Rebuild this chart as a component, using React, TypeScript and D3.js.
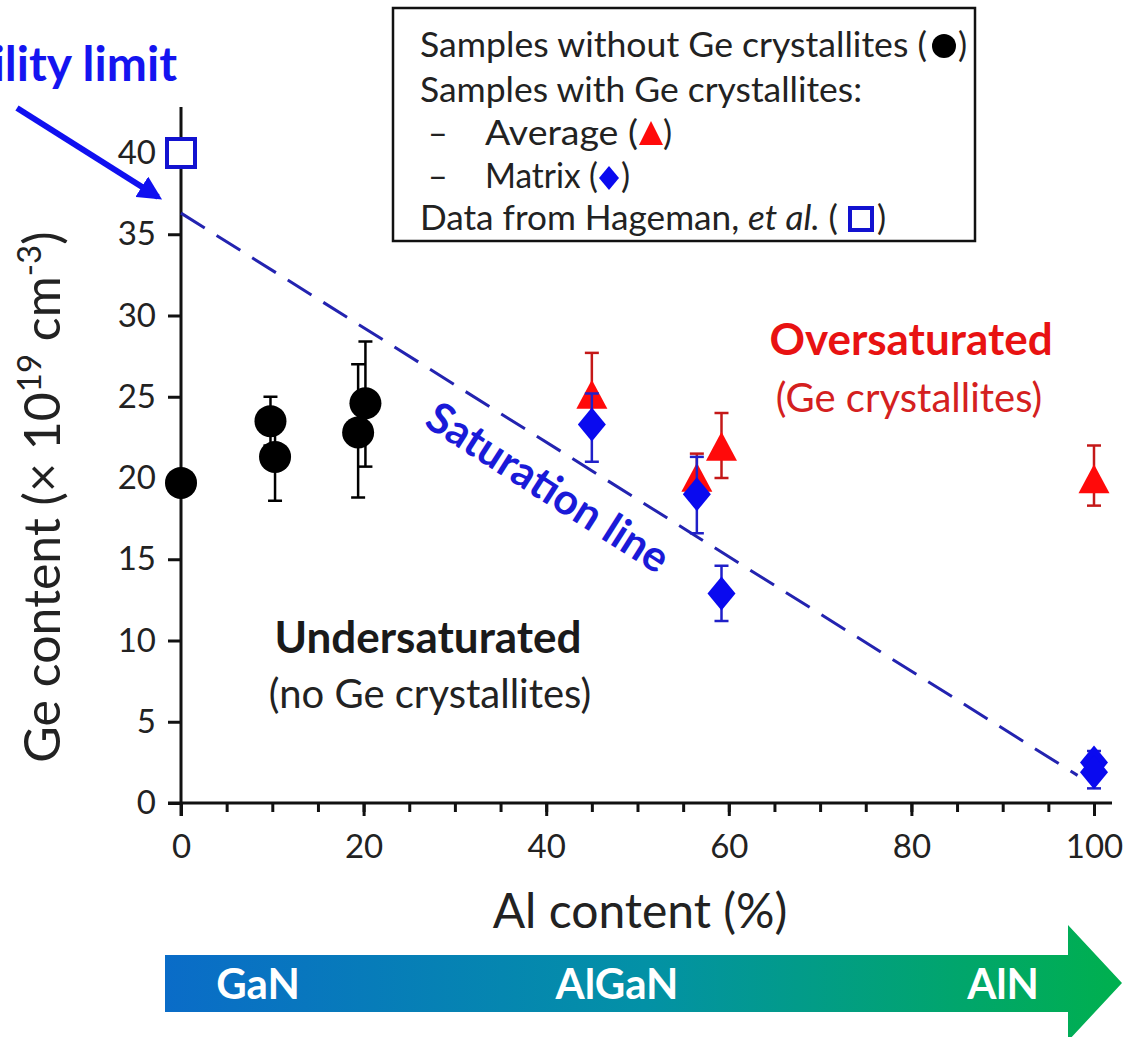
import React, { useEffect, useRef } from 'react';
import * as d3 from 'd3';

const W = 1126;
const H = 1037;
const FONT = 'Lato, "Open Sans", sans-serif';

// Samples without Ge crystallites (black circles)
const noCrysAl = [0, 9.8, 10.3, 19.4, 20.2];
const noCrysGe = [19.7, 23.5, 21.3, 22.8, 24.6];
const noCrysLo = [19.7, 22.0, 18.6, 18.8, 20.7];
const noCrysHi = [19.7, 25.0, 24.0, 27.0, 28.4];

// Samples with Ge crystallites - average (red triangles)
const avgAl = [45, 56.5, 59.2, 100];
const avgGe = [25.0, 19.9, 21.8, 19.8];
const avgLo = [23.0, 18.8, 20.0, 18.3];
const avgHi = [27.7, 21.5, 24.0, 22.0];

// Samples with Ge crystallites - matrix (blue diamonds)
const matAl = [45, 56.5, 59.2, 100, 100];
const matGe = [23.3, 19.0, 12.9, 2.5, 1.9];
const matLo = [21.0, 16.6, 11.2, 1.6, 0.9];
const matHi = [25.2, 21.3, 14.6, 3.2, 2.6];

// Hageman et al.
const hagAl = [0];
const hagGe = [40];

// saturation line end points
const satAl = [0, 98.2];
const satGe = [36.3, 1.7];

const yTicks = [0, 5, 10, 15, 20, 25, 30, 35, 40];
const xMajor = [0, 20, 40, 60, 80, 100];
const xMinor = [0, 5, 10, 15, 20, 25, 30, 35, 40, 45, 50, 55, 60, 65, 70, 75, 80, 85, 90, 95, 100];

const x = d3.scaleLinear().domain([0, 100]).range([181, 1094]);
const y = d3.scaleLinear().domain([0, 40]).range([803, 153]);

const triPath = 'M0,-17L15.5,12L-15.5,12Z';
const diaPath = 'M0,-17L14,0L0,17L-14,0Z';

const ErrBars = ({ xs, lo, hi, color }: { xs: number[]; lo: number[]; hi: number[]; color: string }) => (
  <g stroke={color} strokeWidth={2.5}>
    {xs.map((v, i) =>
      lo[i] === hi[i] ? null : (
        <g key={i}>
          <line x1={x(v)} x2={x(v)} y1={y(lo[i])} y2={y(hi[i])} />
          <line x1={x(v) - 7} x2={x(v) + 7} y1={y(lo[i])} y2={y(lo[i])} />
          <line x1={x(v) - 7} x2={x(v) + 7} y1={y(hi[i])} y2={y(hi[i])} />
        </g>
      )
    )}
  </g>
);

const App = () => {
  const xAxisRef = useRef<SVGGElement>(null);
  const yAxisRef = useRef<SVGGElement>(null);

  useEffect(() => {
    // x axis: minor and major ticks
    const gx = d3.select(xAxisRef.current);
    gx.selectAll('*').remove();
    gx.append('g')
      .call(d3.axisBottom(x).tickValues(xMinor).tickSize(9).tickFormat(() => ''))
      .call(g => g.select('.domain').remove());
    gx.append('g')
      .call(d3.axisBottom(x).tickValues(xMajor).tickSize(13).tickPadding(12).tickFormat(d3.format('d')))
      .call(g => g.select('.domain').remove());
    gx.selectAll('line').attr('stroke', '#111').attr('stroke-width', 3);
    gx.selectAll('text').attr('font-size', 33).attr('font-family', FONT).attr('fill', '#222').attr('dy', '0.9em');

    const gy = d3.select(yAxisRef.current);
    gy.selectAll('*').remove();
    gy.call(d3.axisLeft(y).tickValues(yTicks).tickSize(13).tickPadding(12))
      .call(g => g.select('.domain').remove());
    gy.selectAll('line').attr('stroke', '#111').attr('stroke-width', 3);
    gy.selectAll('text').attr('font-size', 33).attr('font-family', FONT).attr('fill', '#222');
  }, []);

  const satLine = d3.line<number>().x(d => x(d)).y((d, i) => y(satGe[i]));

  return (
    <svg width={W} height={H} style={{ position: 'absolute', left: 0, top: 0, background: '#fff' }} fontFamily={FONT}>
      <defs>
        <linearGradient id="arrowGrad" gradientUnits="userSpaceOnUse" x1={165} x2={1122} y1={0} y2={0}>
          <stop offset="0" stopColor="#0a6cc8" />
          <stop offset="0.5" stopColor="#0391a6" />
          <stop offset="1" stopColor="#00b04e" />
        </linearGradient>
        <marker id="arrHead" viewBox="0 0 10 10" refX="8" refY="5" markerWidth="4" markerHeight="4" orient="auto">
          <path d="M0,0L10,5L0,10Z" fill="#1010f0" />
        </marker>
      </defs>

      {/* axes */}
      <line x1={181} x2={181} y1={107} y2={816} stroke="#111" strokeWidth={3} />
      <line x1={168} x2={1112} y1={y(0)} y2={y(0)} stroke="#111" strokeWidth={3} />
      <g ref={xAxisRef} transform={`translate(0,${y(0)})`} />
      <g ref={yAxisRef} transform={`translate(${x(0)},0)`} />

      {/* axis titles */}
      <text x={640} y={928} textAnchor="middle" fontSize={48} fill="#222">Al content (%)</text>
      <text transform="translate(60,497) rotate(-90)" textAnchor="middle" fontSize={50} fill="#222">
        Ge content (× 10<tspan dy={-19} fontSize={33}>19</tspan><tspan dy={19}> cm</tspan>
        <tspan dy={-19} fontSize={33}>-3</tspan><tspan dy={19}>)</tspan>
      </text>

      {/* saturation line */}
      <path d={satLine(satAl) ?? ''} fill="none" stroke="#2323b0" strokeWidth={3} strokeDasharray="28,14" />
      <text transform="translate(549,486) rotate(32.5)" textAnchor="middle" dominantBaseline="central" fontSize={43} fontWeight="bold" fill="#1a1ad8">
        Saturation line
      </text>

      {/* region labels */}
      <text x={911} y={355} textAnchor="middle" fontSize={44} fontWeight="bold" fill="#e81212">Oversaturated</text>
      <text x={909} y={412} textAnchor="middle" fontSize={40} fill="#d42020">(Ge crystallites)</text>
      <text x={428} y={653} textAnchor="middle" fontSize={44} fontWeight="bold" fill="#1a1a1a">Undersaturated</text>
      <text x={430} y={708} textAnchor="middle" fontSize={40} fill="#222">(no Ge crystallites)</text>

      {/* data: no crystallites */}
      <ErrBars xs={noCrysAl} lo={noCrysLo} hi={noCrysHi} color="#000" />
      {noCrysAl.map((v, i) => (
        <circle key={i} cx={x(v)} cy={y(noCrysGe[i])} r={16} fill="#000" />
      ))}

      {/* average */}
      <ErrBars xs={avgAl} lo={avgLo} hi={avgHi} color="#c41818" />
      {avgAl.map((v, i) => (
        <path key={i} d={triPath} transform={`translate(${x(v)},${y(avgGe[i])})`} fill="#ff0a0a" />
      ))}

      {/* matrix */}
      <ErrBars xs={matAl} lo={matLo} hi={matHi} color="#2020c8" />
      {matAl.map((v, i) => (
        <path key={i} d={diaPath} transform={`translate(${x(v)},${y(matGe[i])})`} fill="#0a0aef" />
      ))}

      {/* Hageman */}
      {hagAl.map((v, i) => (
        <rect key={i} x={x(v) - 14} y={y(hagGe[i]) - 14} width={28} height={28} fill="#fff" stroke="#1212d0" strokeWidth={4} />
      ))}

      {/* solubility limit annotation */}
      <text x={177} y={81} textAnchor="end" fontSize={48} fontWeight="bold" fill="#1414f0">Solubility limit</text>
      <line x1={17} y1={108} x2={158} y2={197} stroke="#1010f0" strokeWidth={6} markerEnd="url(#arrHead)" />

      {/* legend */}
      <g fontSize={34} fill="#222">
        <rect x={393} y={8} width={582} height={233} fill="#fff" stroke="#111" strokeWidth={2.5} />
        <text x={420} y={57} textLength={507} lengthAdjust="spacingAndGlyphs">Samples without Ge crystallites (</text>
        <circle cx={944} cy={46} r={12} fill="#000" />
        <text x={958} y={57}>)</text>
        <text x={420} y={102} textLength={442} lengthAdjust="spacingAndGlyphs">Samples with Ge crystallites:</text>
        <text x={428} y={145}>–</text>
        <text x={485} y={145} textLength={153} lengthAdjust="spacingAndGlyphs">Average (</text>
        <path d="M0,-14L12,10L-12,10Z" transform="translate(651,135)" fill="#ff0a0a" />
        <text x={663} y={145}>)</text>
        <text x={428} y={188}>–</text>
        <text x={485} y={188} textLength={113} lengthAdjust="spacingAndGlyphs">Matrix (</text>
        <path d="M0,-12L10,0L0,12L-10,0Z" transform="translate(609,178)" fill="#0a0aef" />
        <text x={621} y={188}>)</text>
        <text x={420} y={230} textLength={418} lengthAdjust="spacingAndGlyphs">
          Data from Hageman, <tspan fontStyle="italic">et al.</tspan> (
        </text>
        <rect x={850} y={208} width={22} height={22} fill="#fff" stroke="#1212d0" strokeWidth={4} />
        <text x={877} y={230}>)</text>
      </g>

      {/* composition arrow */}
      <path d="M165,955L1068,955L1068,925L1122,983L1068,1041L1068,1012L165,1012Z" fill="url(#arrowGrad)" />
      <g fill="#fff" fontSize={42} fontWeight="bold" textAnchor="middle">
        <text x={258} y={999}>GaN</text>
        <text x={617} y={999}>AlGaN</text>
        <text x={1003} y={999}>AlN</text>
      </g>
    </svg>
  );
};

export default App;
